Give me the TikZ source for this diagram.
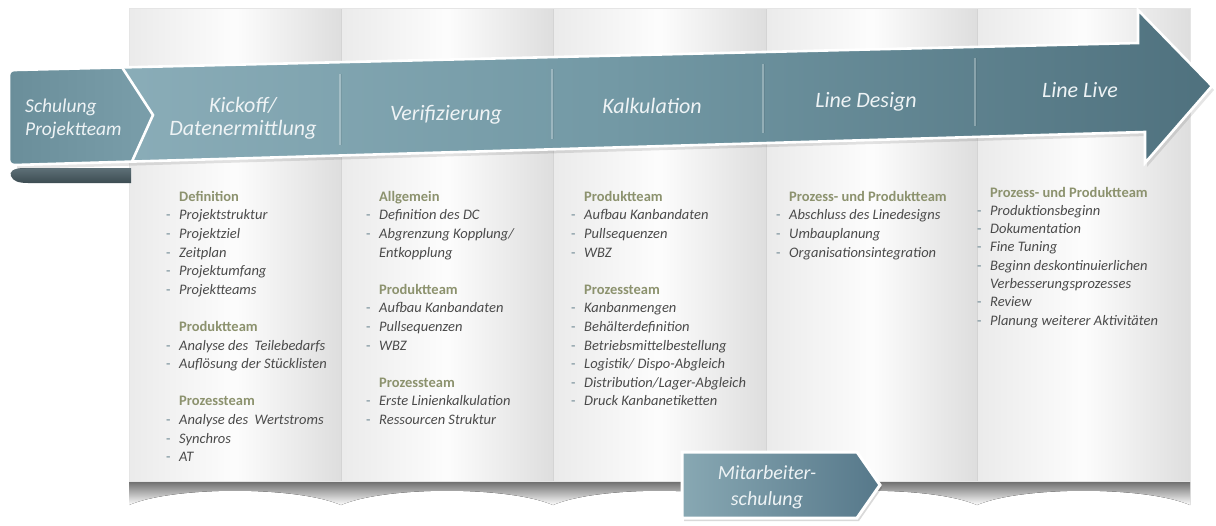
\documentclass[tikz,border=0pt]{standalone}
\usepackage{fontspec}
\setmainfont{Carlito}
\usetikzlibrary{calc}
\definecolor{bandL}{HTML}{8FB1BC}
\definecolor{bandM}{HTML}{7399A5}
\definecolor{bandR}{HTML}{4F717E}
\definecolor{schulL}{HTML}{6A8E9A}
\definecolor{schulR}{HTML}{7A9EAA}
\definecolor{curlT}{HTML}{5E7077}
\definecolor{curlB}{HTML}{3C4C52}
\definecolor{hdc}{HTML}{8C926E}
\definecolor{txc}{HTML}{4A4A4A}
\definecolor{dashc}{HTML}{6B8590}
\definecolor{bandtxt}{HTML}{EEF3F5}
\definecolor{mitL}{HTML}{88A8B3}
\definecolor{mitR}{HTML}{56788A}

\newcommand\colitem[1]{\makebox[13pt][l]{\upshape\color{dashc}-}\textit{#1}\strut}
\newcommand\colhead[1]{\hspace*{13pt}{\bfseries\color{hdc}#1}\strut}
\newcommand\colcont[1]{\hspace*{13pt}\textit{#1}\strut}
\newcommand\colgap{\mbox{}\strut}

\tikzset{
  panel/.style={left color=black!8, right color=black!13, middle color=black!1},
  colsep/.style={draw=black!17, line width=0.8pt},
  bandlabel/.style={text=bandtxt, font=\fontsize{22}{23}\selectfont\itshape, align=center, inner sep=0pt},
  coltext/.style={anchor=north west, align=left, inner sep=0pt, text=txc, font=\fontsize{14.5}{18.6}\selectfont},
  shadowcurve/.style={top color=black!58, bottom color=white},
}

\begin{document}
\begin{tikzpicture}[x=1pt,y=-1pt]
\useasboundingbox (0,0) rectangle (1216,525);
\fill[white] (0,0) rectangle (1216,525);

% shadows under panels
\foreach \a/\b in {129/341, 341/553, 553/766, 766/977, 977/1190}{
  \fill[shadowcurve] (\a,481) -- (\b,481) -- (\b,505) .. controls ({\b-45},486) and ({\a+45},486) .. (\a,505) -- cycle;
}
% panels
\foreach \a/\b in {129/341, 341/553, 553/766, 766/977, 977/1190}{
  \shade[panel] (\a,8) rectangle (\b,481);
}
\foreach \x in {341,553,766,977}{
  \draw[colsep] (\x,8) -- (\x,481);
}
\draw[black!10, line width=0.6pt] (129,8) rectangle (1190,481);

% curl under left end
\path[top color=curlT, bottom color=curlB] (131,168) -- (24,168) .. controls (13,168) and (9,172) .. (11,176) .. controls (13,181) and (18,183) .. (28,183) -- (131,183) -- cycle;

% arrow shadow
\fill[black, opacity=0.10] (17,74) -- (1140,47) -- (1140,14) -- (1214,90) -- (1147,167) -- (1147,136) -- (17,169) -- cycle;

% main band with arrowhead
\path[left color=bandL, right color=bandR, middle color=bandM]
  (15,70) -- (1138,43) -- (1138,10) -- (1212,86) -- (1145,163) -- (1145,132) -- (15,165)
  .. controls (11,165) and (9,163) .. (9,159) -- (9,76) .. controls (9,72) and (11,70) .. (15,70) -- cycle;

% Schulung segment
\path[left color=schulL, right color=schulR]
  (15,70) -- (122,67.3) -- (153,115) -- (132,161.4) -- (15,165)
  .. controls (11,165) and (9,163) .. (9,159) -- (9,76) .. controls (9,72) and (11,70) .. (15,70) -- cycle;

% band dividers
\foreach \x/\t/\bb in {340/74/145, 552/69/139, 763/64/133, 975/58/126}{
  \draw[white, opacity=0.28, line width=1.3pt] (\x,\t) -- (\x,\bb);
  \draw[black, opacity=0.07, line width=1pt] ({\x+1.3},\t) -- ({\x+1.3},\bb);
}

% white outline
\draw[white, line width=2.6pt, line join=miter]
  (15,70) -- (1138,43) -- (1138,10) -- (1212,86) -- (1145,163) -- (1145,132) -- (15,165)
  .. controls (11,165) and (9,163) .. (9,159) -- (9,76) .. controls (9,72) and (11,70) .. (15,70) -- cycle;
\draw[white, line width=2.6pt, line join=miter] (122,67.3) -- (153,115) -- (132,161.4);

% band labels
\node[bandlabel, font=\fontsize{19.5}{23}\selectfont\itshape, align=left, anchor=west] (schul) at (25,119) {Schulung\\Projektteam};
\node[bandlabel] (kick) at (243,118) {Kickoff/\\Datenermittlung};
\node[bandlabel] (veri) at (446,115) {Verifizierung};
\node[bandlabel] (kalk) at (652,106) {Kalkulation};
\node[bandlabel] (ldes) at (866,102) {Line Design};
\node[bandlabel] (llive) at (1080,90) {Line Live};

% column texts
\node[coltext] (c1) at (166,188) {\colhead{Definition}\\
\colitem{Projektstruktur}\\
\colitem{Projektziel}\\
\colitem{Zeitplan}\\
\colitem{Projektumfang}\\
\colitem{Projektteams}\\
\colgap\\
\colhead{Produktteam}\\
\colitem{Analyse des~ Teilebedarfs}\\
\colitem{Auflösung der Stücklisten}\\
\colgap\\
\colhead{Prozessteam}\\
\colitem{Analyse des~ Wertstroms}\\
\colitem{Synchros}\\
\colitem{AT}};

\node[coltext] (c2) at (366,188) {\colhead{Allgemein}\\
\colitem{Definition des DC}\\
\colitem{Abgrenzung Kopplung/}\\
\colcont{Entkopplung}\\
\colgap\\
\colhead{Produktteam}\\
\colitem{Aufbau Kanbandaten}\\
\colitem{Pullsequenzen}\\
\colitem{WBZ}\\
\colgap\\
\colhead{Prozessteam}\\
\colitem{Erste Linienkalkulation}\\
\colitem{Ressourcen Struktur}};

\node[coltext] (c3) at (571,188) {\colhead{Produktteam}\\
\colitem{Aufbau Kanbandaten}\\
\colitem{Pullsequenzen}\\
\colitem{WBZ}\\
\colgap\\
\colhead{Prozessteam}\\
\colitem{Kanbanmengen}\\
\colitem{Behälterdefinition}\\
\colitem{Betriebsmittelbestellung}\\
\colitem{Logistik/ Dispo-Abgleich}\\
\colitem{Distribution/Lager-Abgleich}\\
\colitem{Druck Kanbanetiketten}};

\node[coltext] (c4) at (776,188) {\colhead{Prozess- und Produktteam}\\
\colitem{Abschluss des Linedesigns}\\
\colitem{Umbauplanung}\\
\colitem{Organisationsintegration}};

\node[coltext, font=\fontsize{14.5}{18.3}\selectfont] (c5) at (977,184) {\colhead{Prozess- und Produktteam}\\
\colitem{Produktionsbeginn}\\
\colitem{Dokumentation}\\
\colitem{Fine Tuning}\\
\colitem{Beginn deskontinuierlichen}\\
\colcont{Verbesserungsprozesses}\\
\colitem{Review}\\
\colitem{Planung weiterer Aktivitäten}};

% Mitarbeiterschulung arrow
\fill[black, opacity=0.15] (684,455) -- (859,455) -- (882,488) -- (859,521) -- (684,521) -- cycle;
\path[left color=mitL, right color=mitR, draw=white, line width=3pt, line join=miter]
  (682,452) -- (857,452) -- (880,485) -- (857,518) -- (682,518) -- cycle;
\node[bandlabel, font=\fontsize{20}{26}\selectfont\itshape] (mit) at (767,487) {Mitarbeiter-\\schulung};
\end{tikzpicture}
\end{document}
